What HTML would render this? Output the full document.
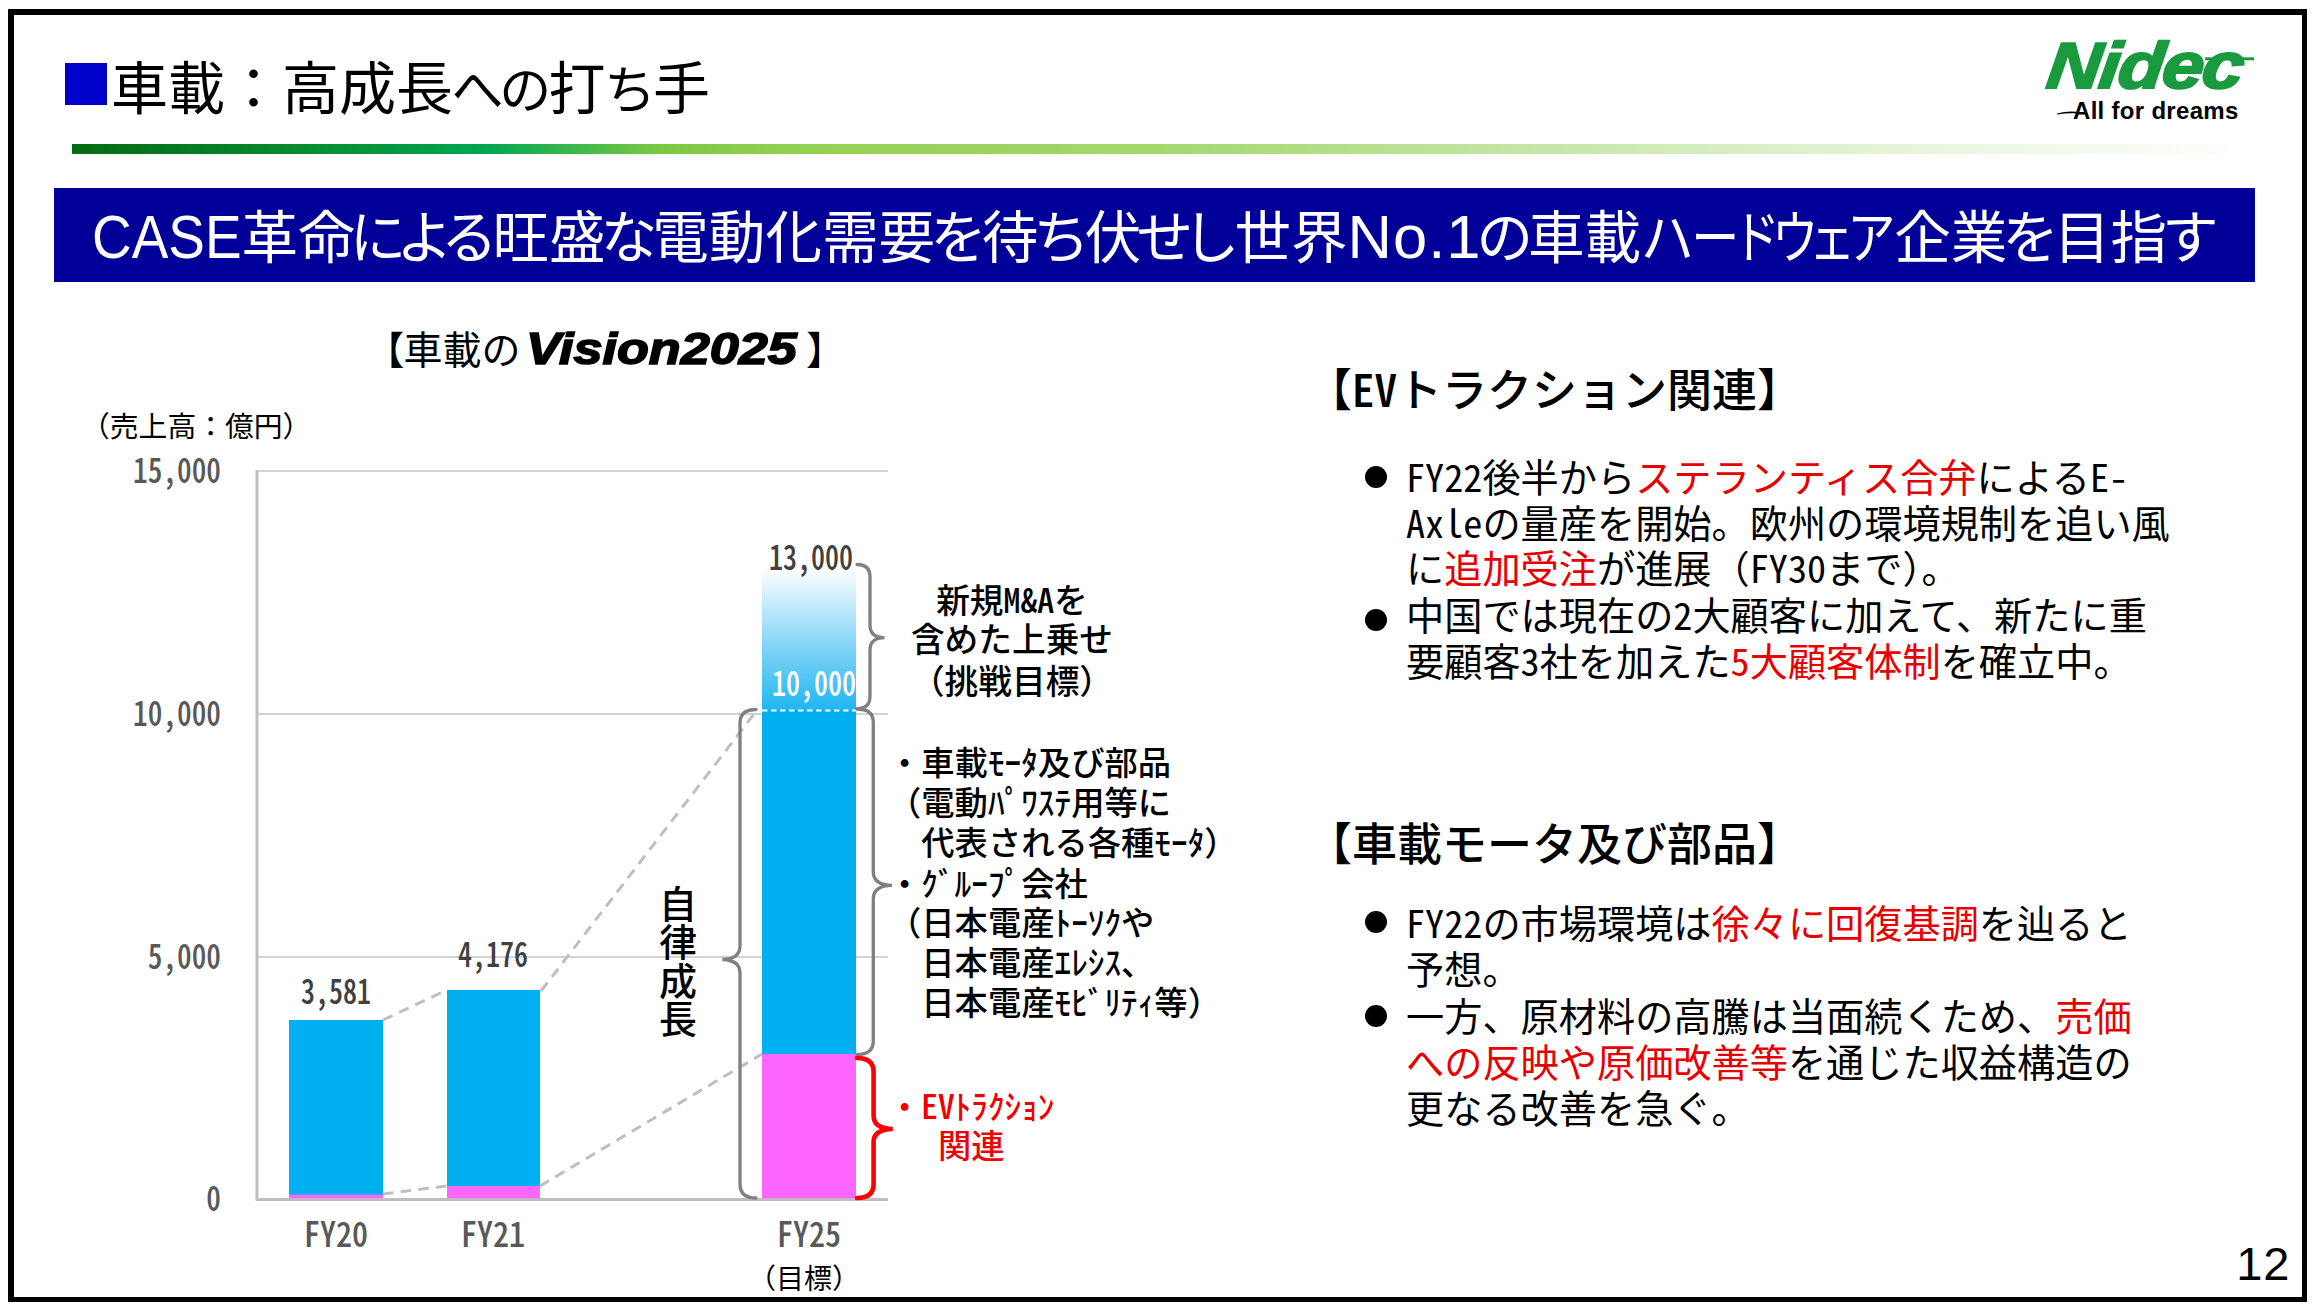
<!DOCTYPE html>
<html lang="ja">
<head>
<meta charset="utf-8">
<title>車載：高成長への打ち手</title>
<style>
html,body{margin:0;padding:0;background:#fff;}
body{width:2314px;height:1310px;position:relative;overflow:hidden;
  font-family:"Liberation Sans","Noto Sans CJK JP",sans-serif;color:#000;}
.abs{position:absolute;white-space:nowrap;}
.jp{font-family:"Noto Sans CJK JP","Liberation Sans",sans-serif;}
.hw{font-family:"Noto Sans CJK JP","Liberation Sans",sans-serif;font-feature-settings:"hwid";}
#frame{position:absolute;left:8px;top:9px;width:2288px;height:1282px;border:6px solid #000;border-right-width:5px;border-bottom-width:5px;box-sizing:content-box;}
#sq{position:absolute;left:65px;top:63px;width:42px;height:42px;background:#0000cc;}
#title{left:111px;top:47.3px;font-size:57px;line-height:84px;}
#title .k{font-size:52px;letter-spacing:-4.3px;position:relative;left:-1.5px;}
#gline{position:absolute;left:72px;top:144px;width:2176px;height:10px;
  background:linear-gradient(to right,#066a12 0%,#078a2c 10%,#00a651 19%,#7ac943 27%,#92d050 33%,#a3d86f 50%,#c6e7a9 68%,#e8f5dc 85%,#ffffff 100%);}
#banner{position:absolute;left:54px;top:188px;width:2201px;height:94px;background:#000099;}
#btext{left:92px;top:189.8px;font-size:56.6px;line-height:94px;color:#fff;}
#btext .k{letter-spacing:-10.1px;position:relative;left:-5px;}
#btext .l{font-size:61.5px;letter-spacing:1px;position:relative;top:-.3px;}
#btext .l0{display:inline-block;font-size:62px;transform:scaleX(.886);transform-origin:0 50%;margin-right:-19.3px;position:relative;top:-.3px;}
#pageno{right:23.5px;top:1235.5px;font-size:47px;line-height:56px;letter-spacing:1px;}
.h2{font-size:45px;line-height:60px;font-weight:500;left:1307px;}
.bl{font-size:38.2px;line-height:46px;left:1406px;}
.red{color:#e80000;}
.dot{position:absolute;width:22px;height:22px;border-radius:50%;background:#000;left:1365px;}
.cl{font-size:33.3px;line-height:40px;font-weight:500;left:888px;}

.ax{font-size:34.8px;line-height:36px;color:#595959;width:140px;text-align:right;left:81px;transform:scaleX(.842);transform-origin:100% 50%;font-weight:500;}
.dl{font-size:34.4px;line-height:36px;color:#404040;width:140px;text-align:center;transform:scaleX(.815);font-weight:500;}
.xl{font-size:35px;line-height:40px;color:#595959;width:140px;text-align:center;font-weight:500;transform:scaleX(.915);}
.pl{font-feature-settings:"palt";}
#ctitle{left:384px;top:319px;font-size:39px;line-height:56px;}
#vis{display:inline-block;font-family:"Liberation Sans",sans-serif;font-weight:700;font-style:italic;font-size:45px;-webkit-text-stroke:1.6px #000;transform:scaleX(1.16);transform-origin:0 50%;margin-left:9px;margin-right:48px;}
#unit{left:81px;top:405px;font-size:28.8px;line-height:40px;}
#jiritsu{left:658px;top:883px;width:40px;font-size:38px;line-height:38.4px;font-weight:500;white-space:normal;text-align:center;}
.ct{font-size:33.7px;line-height:40px;font-weight:500;width:300px;text-align:center;left:862px;}
</style>
</head>
<body>
<div id="frame"></div>
<div id="sq"></div>
<div id="title" class="abs">車載：高成長<span class="k">への</span>打<span class="k">ち</span>手</div>
<div id="gline"></div>
<div id="banner"></div>
<div id="btext" class="abs"><span class="l0">CASE</span>革命<span class="k">による</span>旺盛<span class="k">な</span>電動化需要<span class="k">を</span>待<span class="k">ち</span>伏<span class="k">せし</span>世界<span class="l">No.1</span><span class="k">の</span>車載<span style="display:inline-block;transform:scaleX(0.94);margin:0 -2.3px">ハ</span><span style="display:inline-block;transform:scaleX(0.85);margin:0 -6.3px">ー</span><span style="display:inline-block;transform:scaleX(0.84);margin:0 -8.8px">ド</span><span style="display:inline-block;transform:scaleX(0.82);margin:0 -8.8px">ウ</span><span style="display:inline-block;transform:scaleX(0.82);margin:0 -11.3px">ェ</span><span style="display:inline-block;transform:scaleX(0.86);margin:0 -5.8px">ア</span>企業<span class="k">を</span>目指<span class="k">す</span></div>
<div id="pageno" class="abs">12</div>



<!-- logo -->
<svg id="logo" class="abs" style="left:2030px;top:30px" width="240" height="100" viewBox="2030 30 240 100">
<g transform="translate(2045 87.5) skewX(-7) scale(1.15 1)">
<text x="0" y="0" font-family="'Liberation Sans',sans-serif" font-weight="700" font-style="italic" font-size="65" fill="#1a9a3f" stroke="#1a9a3f" stroke-width="2.2" stroke-linejoin="miter" letter-spacing="-1.5">Nidec</text>
</g>
<rect x="2205" y="57.3" width="49" height="3" fill="#1a9a3f"/>
<path d="M2057 113.5 Q2068 110.5 2080 112.2 L2080 113.6 Q2068 112.5 2057 114.6 Z" fill="#000"/>
<text x="2073" y="119" font-family="'Liberation Sans',sans-serif" font-weight="700" font-size="24" fill="#000" letter-spacing="0.3">All for dreams</text>
</svg>

<!-- chart -->
<svg id="chart" class="abs" style="left:0;top:0" width="2314" height="1310" viewBox="0 0 2314 1310">
<defs>
<linearGradient id="gup" x1="0" y1="0" x2="0" y2="1">
<stop offset="0" stop-color="#ffffff"/>
<stop offset="0.5" stop-color="#8dd8f8"/>
<stop offset="1" stop-color="#1fb5f1"/>
</linearGradient>
</defs>
<g stroke="#d3d3d3" stroke-width="2" fill="none">
<line x1="257" y1="471" x2="888" y2="471"/>
<line x1="257" y1="714" x2="888" y2="714"/>
<line x1="257" y1="957" x2="888" y2="957"/>
</g>
<line x1="257" y1="470" x2="257" y2="1200" stroke="#bfbfbf" stroke-width="3"/>
<line x1="255.5" y1="1199.5" x2="888" y2="1199.5" stroke="#bfbfbf" stroke-width="3"/>
<!-- bars -->
<rect x="289" y="1020" width="94" height="178" fill="#00b0f0"/>
<rect x="289" y="1194.7" width="94" height="3.5" fill="#ff66ff"/>
<rect x="447" y="990" width="93" height="208" fill="#00b0f0"/>
<rect x="447" y="1186" width="93" height="12.2" fill="#ff66ff"/>
<rect x="762" y="568" width="94" height="143" fill="url(#gup)"/>
<rect x="762" y="710" width="94" height="345" fill="#00b0f0"/>
<rect x="762" y="1054" width="94" height="144.2" fill="#ff66ff"/>
<line x1="762" y1="710.5" x2="856" y2="710.5" stroke="#ffffff" stroke-width="2" stroke-dasharray="5.5 3.5"/>
<!-- dashed connectors -->
<g stroke="#bfbfbf" stroke-width="3" fill="none" stroke-dasharray="10.5 7.3">
<line x1="383" y1="1020" x2="447" y2="990"/>
<line x1="541" y1="991" x2="757.5" y2="709.5"/>
<line x1="383" y1="1194" x2="447" y2="1186"/>
<line x1="540" y1="1186" x2="762" y2="1054"/>
</g>
<!-- braces -->
<g fill="none" stroke="#808080" stroke-width="3.3" stroke-linecap="round">
<path d="M857 564.5 Q870 564.5 870 577 L870 625 Q870 637.5 884.5 637.7 Q870 638 870 650 L870 696 Q870 708.7 857 708.7"/>
<path d="M857 709 Q873.3 709 873.3 722 L873.3 872 Q873.3 885 892 885.3 Q873.3 885.6 873.3 899 L873.3 1041 Q873.3 1054.5 857 1054.5"/>
<path d="M756 709.5 Q740 709.5 740 723 L740 946 Q740 959 722.4 959.5 Q740 960 740 973 L740 1184 Q740 1198 756 1198"/>
</g>
<path d="M857 1058 Q873.6 1058 873.6 1072 L873.6 1116 Q873.6 1128.5 892.7 1129 Q873.6 1129.5 873.6 1142 L873.6 1184 Q873.6 1198 857 1198" fill="none" stroke="#ff0000" stroke-width="4.6" stroke-linecap="round"/>
</svg>


<!-- chart text -->
<div id="ctitle" class="abs jp"><span class="pl">【</span>車載<span style="letter-spacing:-4px">の</span><span id="vis">Vision2025</span><span class="pl">】</span></div>
<div id="unit" class="abs jp">（売上高：億円）</div>
<div class="abs hw ax" style="top:450px">15,000</div>
<div class="abs hw ax" style="top:693px">10,000</div>
<div class="abs hw ax" style="top:936px">5,000</div>
<div class="abs hw ax" style="top:1178px">0</div>
<div class="abs hw dl" style="left:266px;top:971px">3,581</div>
<div class="abs hw dl" style="left:423px;top:934px">4,176</div>
<div class="abs hw dl" style="left:741px;top:536.5px">13,000</div>
<div class="abs hw dl" style="left:744px;top:662.5px;color:#fff">10,000</div>
<div class="abs hw xl" style="left:266px;top:1211.5px">FY20</div>
<div class="abs hw xl" style="left:423px;top:1211.5px">FY21</div>
<div class="abs hw xl" style="left:739px;top:1211.5px">FY25</div>
<div class="abs jp" style="left:748px;top:1256.5px;font-size:28px;line-height:40px;width:112px;text-align:center">（目標）</div>
<div id="jiritsu" class="abs jp">自律成長</div>
<div class="abs jp ct" style="top:578.5px">新規<span class="hw">M&amp;A</span>を</div>
<div class="abs jp ct" style="top:617.5px">含めた上乗せ</div>
<div class="abs jp ct" style="top:660px">（挑戦目標）</div>
<div class="abs jp cl" style="top:741px">・車載ﾓｰﾀ及び部品</div>
<div class="abs jp cl" style="top:781px">（電動ﾊﾟﾜｽﾃ用等に</div>
<div class="abs jp cl" style="top:821px">　代表される各種ﾓｰﾀ）</div>
<div class="abs jp cl" style="top:862px">・ｸﾞﾙｰﾌﾟ会社</div>
<div class="abs jp cl" style="top:901px">（日本電産ﾄｰｿｸや</div>
<div class="abs jp cl" style="top:941px">　日本電産ｴﾚｼｽ、</div>
<div class="abs jp cl" style="top:981px">　日本電産ﾓﾋﾞﾘﾃｨ等）</div>
<div class="abs jp cl" style="top:1085px;color:#f00000">・<span class="hw">EV</span>ﾄﾗｸｼｮﾝ</div>
<div class="abs jp cl" style="top:1124px;color:#f00000;left:938px">関連</div>

<!-- right column -->
<div class="abs jp h2" style="top:358px">【<span class="hw">EV</span>トラクション関連】</div>
<div class="dot" style="top:466px"></div>
<div class="abs jp bl" style="top:452.5px"><span class="hw">FY22</span>後半から<span class="red">ステランティス合弁</span>による<span class="hw">E-</span></div>
<div class="abs jp bl" style="top:499px"><span class="hw">Axle</span>の量産を開始。欧州の環境規制を追い風</div>
<div class="abs jp bl" style="top:544px">に<span class="red">追加受注</span>が進展（<span class="hw">FY30</span>まで）。</div>
<div class="dot" style="top:609px"></div>
<div class="abs jp bl" style="top:590.5px">中国では現在の<span class="hw">2</span>大顧客に加えて、新たに重</div>
<div class="abs jp bl" style="top:637px">要顧客<span class="hw">3</span>社を加えた<span class="red"><span class="hw">5</span>大顧客体制</span>を確立中。</div>

<div class="abs jp h2" style="top:812px">【車載モータ及び部品】</div>
<div class="dot" style="top:911px"></div>
<div class="abs jp bl" style="top:898.5px"><span class="hw">FY22</span>の市場環境は<span class="red">徐々に回復基調</span>を辿ると</div>
<div class="abs jp bl" style="top:945px">予想。</div>
<div class="dot" style="top:1005px"></div>
<div class="abs jp bl" style="top:992px">一方、原材料の高騰は当面続くため、<span class="red">売価</span></div>
<div class="abs jp bl" style="top:1037.5px"><span class="red">への反映や原価改善等</span>を通じた収益構造の</div>
<div class="abs jp bl" style="top:1083.5px">更なる改善を急ぐ。</div>

</body>
</html>
